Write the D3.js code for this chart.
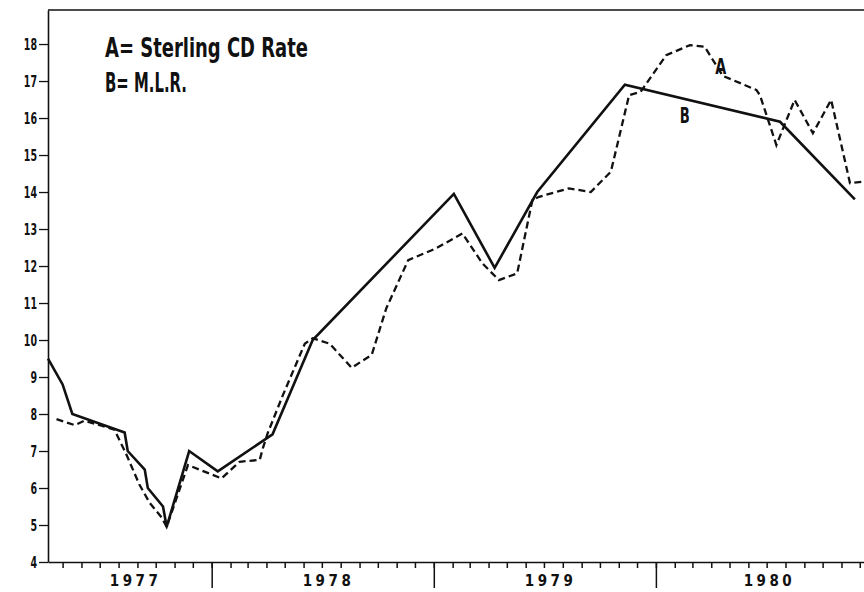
<!DOCTYPE html>
<html>
<head>
<meta charset="utf-8">
<script src="https://cdn.jsdelivr.net/npm/d3@7"></script>
<style>
  body { margin: 0; background: #fff; }
  svg { display: block; }
  .lbl { font-family: 'Liberation Sans Narrow', 'DejaVu Sans Condensed', sans-serif; font-weight: bold; fill: #111; }
</style>
</head>
<body>
<div id="container"></div>
<script>
// A = Sterling CD rate (dashed), B = MLR (solid)
let cdDates = ["1977-04-21","1977-05-21","1977-06-06","1977-07-25","1977-08-14","1977-09-04","1977-09-21",
  "1977-10-11","1977-10-19","1977-11-23","1978-01-17","1978-02-16","1978-03-21","1978-03-26","1978-04-03",
  "1978-04-28","1978-06-03","1978-06-16","1978-07-14","1978-08-19","1978-09-21","1978-10-15","1978-11-20",
  "1979-01-05","1979-02-17","1979-03-22","1979-04-18","1979-05-18","1979-06-12","1979-06-23","1979-08-11",
  "1979-09-16","1979-10-19","1979-11-18","1979-12-07","1980-01-18","1980-02-26","1980-03-21","1980-04-20",
  "1980-06-14","1980-06-20","1980-07-17","1980-08-16","1980-09-15","1980-10-15","1980-11-15","1980-12-08"];
let cdRate = [7.86,7.7,7.82,7.58,6.9,6.1,5.6,
  5.2,4.95,6.62,6.26,6.71,6.76,7.07,7.48,
  8.51,9.9,10.05,9.9,9.25,9.6,10.86,12.16,
  12.48,12.88,12.07,11.62,11.8,13.78,13.87,14.1,
  14.0,14.55,16.62,16.71,17.7,17.97,17.93,17.14,
  16.76,16.62,15.27,16.49,15.59,16.49,14.24,14.28];

let mlrDates = ["1977-04-07","1977-05-01","1977-05-17","1977-08-11","1977-08-16","1977-09-13","1977-09-18",
  "1977-10-13","1977-10-19","1977-11-25","1978-01-11","1978-04-11","1978-06-16","1979-02-03","1979-04-11",
  "1979-06-20","1979-11-11","1980-07-23","1980-11-23"];
let mlrRate = [9.5,8.8,8.0,7.5,7.0,6.5,6.0,
  5.5,4.95,7.0,6.45,7.45,10.0,13.95,11.95,
  14.0,16.9,15.9,13.8];

let yTicks = [4,5,6,7,8,9,10,11,12,13,14,15,16,17,18];
let yearLabels = ["1977","1978","1979","1980"];

let w = 864;
let h = 592;

let parse = d3.timeParse("%Y-%m-%d");
let viz = d3.select("#container")
  .append("svg")
    .attr("width", w)
    .attr("height", h)
;

let xScale = d3.scaleTime()
  .domain([parse("1977-04-07"), parse("1980-12-08")])
  .range([48, 864]);
let yScale = d3.scaleLinear().domain([4, 18.92]).range([562, 10]);

// frame top
viz.append("line")
  .attr("x1", xScale.range()[0]).attr("x2", xScale.range()[1])
  .attr("y1", yScale(18.92)).attr("y2", yScale(18.92))
  .attr("stroke", "#111").attr("stroke-width", 1.6);

// y axis
let yAxis = d3.axisLeft(yScale).tickValues(yTicks).tickSize(9).tickSizeOuter(0).tickPadding(2)
  .tickFormat(d3.format("d"));
let yAxisGroup = viz.append("g")
  .attr("transform", "translate(" + xScale.range()[0] + ",0)")
  .call(yAxis);
yAxisGroup.select(".domain").attr("stroke", "#111").attr("stroke-width", 1.6);
yAxisGroup.selectAll(".tick line").attr("stroke", "#111").attr("stroke-width", 1.3);
yAxisGroup.selectAll("text")
  .attr("class", "lbl")
  .style("font-size", "16px")
  .attr("dy", "0.36em")
  .attr("textLength", function(d){ return String(d).length * 6.6; })
  .attr("lengthAdjust", "spacingAndGlyphs");

// x axis: month ticks
let xAxis = d3.axisBottom(xScale).ticks(d3.timeMonth.every(1)).tickSize(6).tickSizeOuter(0).tickFormat("");
let xAxisGroup = viz.append("g")
  .attr("transform", "translate(0," + yScale(4) + ")")
  .call(xAxis);
xAxisGroup.select(".domain").attr("stroke", "#111").attr("stroke-width", 1.6);
xAxisGroup.selectAll(".tick line").attr("stroke", "#111").attr("stroke-width", 1.5);

// year boundaries
let yearStarts = yearLabels.slice(1).map(function(d){ return parse(d + "-01-01"); });
let yearAxis = d3.axisBottom(xScale).tickValues(yearStarts).tickSize(26).tickSizeOuter(0).tickFormat("");
let yearGroup = viz.append("g")
  .attr("transform", "translate(0," + yScale(4) + ")")
  .call(yearAxis);
yearGroup.select(".domain").remove();
yearGroup.selectAll(".tick line").attr("stroke", "#111").attr("stroke-width", 1.5);

// year labels centred in the visible part of each year
viz.selectAll(".year")
  .data(yearLabels)
  .enter()
  .append("text")
    .attr("class", "lbl")
    .attr("x", function(d){
      let a = Math.max(xScale(parse(d + "-01-01")), xScale.range()[0]);
      let b = xScale(parse((+d + 1) + "-01-01"));
      let c = d == "1980" ? xScale(parse("1980-07-01")) - 4 : (a + b) / 2 - 1;
      return c - 19;
    })
    .attr("y", 586)
    .style("font-size", "15px")
    .style("letter-spacing", "3.5px")
    .text(function(d){ return d; });

// lines
let cdData = cdDates.map(function(d, i){ return { date: parse(d), value: cdRate[i] }; });
let mlrData = mlrDates.map(function(d, i){ return { date: parse(d), value: mlrRate[i] }; });

let lineMaker = d3.line()
  .x(function(d){ return xScale(d.date); })
  .y(function(d){ return yScale(d.value); });

viz.append("path")
  .datum(cdData)
  .attr("d", lineMaker)
  .attr("fill", "none")
  .attr("stroke", "#111")
  .attr("stroke-width", 2.3)
  .attr("stroke-dasharray", "7,4");

viz.append("path")
  .datum(mlrData)
  .attr("d", lineMaker)
  .attr("fill", "none")
  .attr("stroke", "#111")
  .attr("stroke-width", 2.6)
  .attr("stroke-linejoin", "miter");

// legend
viz.append("text").attr("class", "lbl")
  .attr("x", 105).attr("y", 57)
  .style("font-size", "26px")
  .attr("textLength", 203).attr("lengthAdjust", "spacingAndGlyphs")
  .text("A= Sterling CD Rate");
viz.append("text").attr("class", "lbl")
  .attr("x", 105).attr("y", 92)
  .style("font-size", "26px")
  .attr("textLength", 82).attr("lengthAdjust", "spacingAndGlyphs")
  .text("B= M.L.R.");

// series labels
viz.append("text").attr("class", "lbl")
  .attr("x", xScale(parse("1980-04-01")) + 4).attr("y", 74)
  .style("font-size", "21px")
  .attr("textLength", 11).attr("lengthAdjust", "spacingAndGlyphs")
  .text("A");
viz.append("text").attr("class", "lbl")
  .attr("x", xScale(parse("1980-02-01")) + 5).attr("y", 123)
  .style("font-size", "21px")
  .attr("textLength", 10).attr("lengthAdjust", "spacingAndGlyphs")
  .text("B");
</script>
</body>
</html>
